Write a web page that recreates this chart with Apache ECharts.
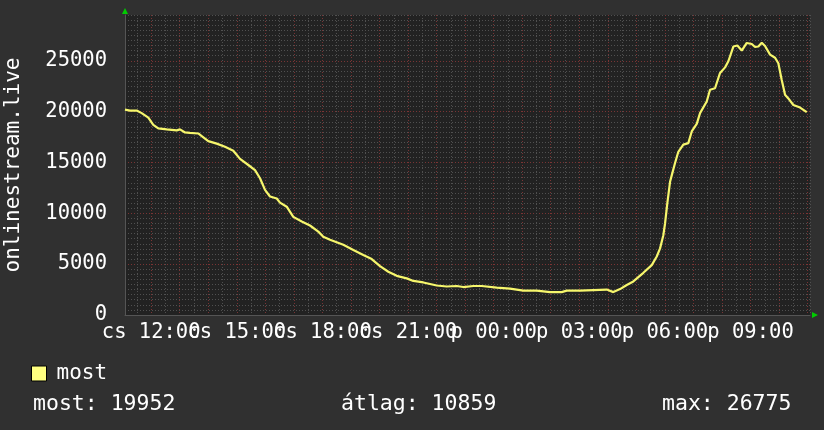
<!DOCTYPE html>
<html><head><meta charset="utf-8">
<script src="https://cdn.jsdelivr.net/npm/echarts@6/dist/echarts.min.js"></script>
<style>html,body{margin:0;padding:0;background:#303030;}#c{width:824px;height:430px;}</style>
</head><body><div id="c"></div>
<script>
// time in hours since Thursday 00:00 (24 = Friday 00:00)
const hours = [11.083,11.258,11.493,11.668,11.900,12.075,12.250,12.544,12.895,13.010,13.186,13.361,13.652,13.771,14.002,14.296,14.587,14.878,15.113,15.404,15.638,15.814,15.989,16.164,16.399,16.514,16.749,16.980,17.275,17.565,17.856,18.031,18.266,18.732,19.083,19.433,19.727,20.018,20.309,20.603,20.954,21.185,21.535,22.005,22.355,22.705,22.937,23.287,23.582,24.107,24.573,25.039,25.508,25.974,26.384,26.560,27.026,27.492,27.962,28.193,28.428,28.663,28.894,29.245,29.539,29.714,29.830,29.945,30.005,30.085,30.180,30.274,30.355,30.470,30.645,30.820,30.940,31.115,31.231,31.465,31.581,31.756,31.932,32.107,32.223,32.398,32.538,32.692,32.867,33.042,33.158,33.274,33.393,33.508,33.684,33.859,33.974,34.093,34.209,34.324,34.500,34.735,34.969];
const values = [20200,20100,20100,19850,19400,18700,18350,18250,18150,18250,17950,17900,17850,17600,17100,16850,16550,16150,15350,14750,14250,13450,12300,11650,11450,11050,10650,9650,9200,8800,8200,7700,7400,6900,6400,5900,5500,4800,4250,3850,3600,3350,3200,2900,2800,2850,2750,2850,2850,2700,2600,2400,2400,2250,2250,2400,2400,2450,2500,2250,2550,2950,3300,4150,4900,5750,6550,7850,9000,11000,13100,14100,14950,16050,16750,16900,18050,18800,19850,21000,22150,22300,23800,24350,24950,26400,26500,26000,26750,26650,26350,26400,26775,26450,25600,25300,24750,23100,21650,21300,20650,20400,19952];
const xLabelHours = [12,15,18,21,24,27,30,33];
const dayNames = ['cs','p'];
const yLabelValues = [0,5000,10000,15000,20000,25000];
const seriesName = 'most';
const axisName = 'onlinestream.live';
const statLabels = ['most: 19952','átlag: 10859','max: 26775'];

const FONT = 'DejaVu Sans Mono';
const RED = '#7a3434', GREY = '#505050';
const chart = echarts.init(document.getElementById('c'), null, {renderer:'canvas'});
const pad2 = n => (n < 10 ? '0' : '') + n;
chart.setOption({
  animation:false,
  backgroundColor:'#303030',
  grid:{left:125,right:14,top:15,bottom:115,show:true,backgroundColor:'#222222',borderWidth:0,outerBoundsMode:'none',containLabel:false},
  xAxis:{
    type:'value', min:11.0833, max:35.0833, splitNumber:48, minInterval:0.5, maxInterval:0.5,
    axisLine:{show:true,lineStyle:{color:'#555',width:1}},
    axisTick:{show:false},
    axisLabel:{color:'#ffffff',fontFamily:FONT,fontSize:20.5,margin:7,
      formatter:v=>{const r=Math.round(v); if(Math.abs(v-r)>1e-6||xLabelHours.indexOf(r)<0) return ''; return dayNames[r>=24?1:0]+' '+pad2(r%24)+':00';}},
    splitLine:{show:true,lineStyle:{color:[RED,GREY],type:[1,2],width:1}}
  },
  yAxis:{
    type:'value', min:0, max:29500, interval:500,
    name:axisName, nameLocation:'middle', nameRotate:90, nameGap:101,
    nameTextStyle:{color:'#ffffff',fontFamily:FONT,fontSize:21},
    axisLine:{show:true,lineStyle:{color:'#555',width:1}},
    axisTick:{show:false},
    axisLabel:{color:'#ffffff',fontFamily:FONT,fontSize:20.5,margin:18,
      formatter:v=>yLabelValues.indexOf(v)>=0?String(v):''},
    splitLine:{show:true,lineStyle:{color:[RED,GREY,GREY,GREY,GREY,GREY,GREY,GREY,GREY,GREY],type:[1,2],width:1}}
  },
  legend:{show:true,left:31,top:363,padding:0,icon:'rect',itemWidth:15,itemHeight:15,
    data:[{name:seriesName,itemStyle:{color:'#ffff80',borderColor:'#000',borderWidth:1}}],
    textStyle:{color:'#ffffff',fontFamily:FONT,fontSize:21,padding:[0,0,0,5]}},
  series:[{name:seriesName,type:'line',data:hours.map((h,i)=>[h,values[i]]),showSymbol:false,symbol:'none',
    lineStyle:{color:'#f6f66c',width:2.2},itemStyle:{color:'#f6f66c'}}],
  graphic:[
    {type:'text',left:33,top:393,style:{text:statLabels[0],fill:'#fff',font:'21.5px "DejaVu Sans Mono"'}},
    {type:'text',left:341,top:393,style:{text:statLabels[1],fill:'#fff',font:'21.5px "DejaVu Sans Mono"'}},
    {type:'text',left:662,top:393,style:{text:statLabels[2],fill:'#fff',font:'21.5px "DejaVu Sans Mono"'}},
    {type:'polygon',shape:{points:[[122,14],[128,14],[125,8]]},style:{fill:'#00cc00'}},
    {type:'polygon',shape:{points:[[812,312],[812,318],[818,315]]},style:{fill:'#00cc00'}}
  ]
});
</script></body></html>
